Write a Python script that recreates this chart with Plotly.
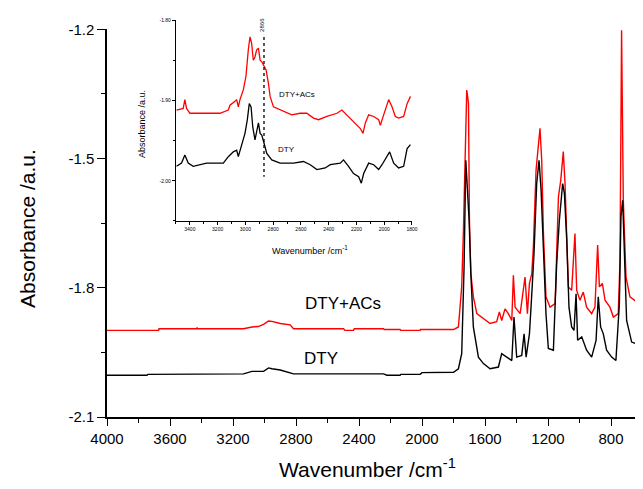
import plotly.graph_objects as go

# ---------------- main spectra ----------------
red_wn = [4000, 3672, 3670, 3430, 3428, 3425, 3133, 3080, 3040, 3006, 2974, 2953, 2900, 2837, 2816,
          2498, 2490, 2435, 2430, 2244, 2240, 2139, 2135, 2012, 2010, 1800, 1769, 1748, 1737, 1726,
          1716, 1705, 1699, 1690, 1674, 1652, 1610, 1568, 1526, 1509, 1494, 1473, 1452, 1430, 1420,
          1409, 1377, 1361, 1346, 1331, 1318, 1303, 1293, 1276, 1261, 1251, 1240, 1229, 1213, 1187,
          1155, 1134, 1119, 1103, 1092, 1081, 1071, 1050, 1029, 1018, 997, 976, 955, 923, 902, 885,
          874, 855, 838, 807, 785, 754, 743, 733, 722, 705, 680, 637, 616, 600]
red_abs = [-1.899, -1.899, -1.895, -1.895, -1.892, -1.895, -1.895, -1.891, -1.890, -1.885, -1.877, -1.878,
           -1.883, -1.886, -1.895, -1.895, -1.899, -1.899, -1.895, -1.895, -1.897, -1.897, -1.899, -1.899,
           -1.897, -1.897, -1.891, -1.798, -1.666, -1.504, -1.341, -1.372, -1.643, -1.767, -1.821, -1.860,
           -1.872, -1.883, -1.879, -1.856, -1.876, -1.849, -1.860, -1.876, -1.771, -1.845, -1.860, -1.821,
           -1.775, -1.860, -1.790, -1.767, -1.705, -1.527, -1.465, -1.430, -1.504, -1.674, -1.821, -1.845,
           -1.837, -1.589, -1.550, -1.484, -1.558, -1.705, -1.798, -1.806, -1.674, -1.806, -1.829, -1.810,
           -1.845, -1.860, -1.845, -1.701, -1.798, -1.790, -1.829, -1.845, -1.868, -1.860, -1.736, -1.202,
           -1.597, -1.775, -1.821, -1.833, -1.841, -1.843]

black_wn = [4000, 3746, 3740, 3672, 3660, 3133, 3080, 3006, 2974, 2953, 2900, 2837, 2816, 2244, 2223,
            2139, 2135, 2012, 2000, 1800, 1769, 1748, 1733, 1722, 1712, 1701, 1690, 1674, 1642, 1610,
            1568, 1515, 1494, 1462, 1430, 1416, 1399, 1367, 1352, 1339, 1318, 1303, 1289, 1272, 1257,
            1244, 1229, 1213, 1198, 1166, 1145, 1128, 1107, 1096, 1081, 1067, 1050, 1035, 1022, 1012,
            986, 955, 923, 895, 881, 866, 849, 828, 796, 769, 747, 737, 726, 716, 701, 669, 637, 606, 600]
black_abs = [-2.003, -2.003, -2.001, -2.001, -2.000, -2.000, -1.994, -1.994, -1.986, -1.988, -1.991,
             -1.998, -2.000, -2.000, -2.003, -2.003, -2.001, -2.001, -1.997, -1.996, -1.988, -1.953,
             -1.752, -1.504, -1.581, -1.643, -1.767, -1.891, -1.961, -1.976, -1.988, -1.984, -1.953,
             -1.961, -1.969, -1.868, -1.961, -1.957, -1.907, -1.961, -1.907, -1.814, -1.721, -1.558,
             -1.504, -1.573, -1.736, -1.860, -1.941, -1.945, -1.744, -1.643, -1.558, -1.581, -1.690,
             -1.845, -1.891, -1.899, -1.814, -1.922, -1.914, -1.945, -1.961, -1.922, -1.821, -1.891,
             -1.907, -1.945, -1.961, -1.969, -1.837, -1.635, -1.597, -1.721, -1.876, -1.926, -1.930,
             -1.941, -1.941]

# ---------------- inset spectra ----------------
in_red_wn = [3496, 3448, 3436, 3424, 3400, 3183, 3123, 3111, 3075, 3063, 3051, 3039, 3015, 2996, 2979,
             2967, 2955, 2943, 2931, 2919, 2906, 2894, 2882, 2870, 2851, 2834, 2822, 2798, 2750, 2666,
             2606, 2558, 2509, 2473, 2413, 2341, 2305, 2269, 2221, 2172, 2153, 2136, 2112, 2076, 2040,
             2028, 2004, 1968, 1944, 1920, 1896, 1860, 1835, 1811]
in_red_abs = [-1.912, -1.910, -1.899, -1.910, -1.916, -1.916, -1.912, -1.906, -1.901, -1.899, -1.908,
              -1.899, -1.887, -1.870, -1.837, -1.821, -1.829, -1.850, -1.846, -1.837, -1.835, -1.850,
              -1.852, -1.856, -1.862, -1.879, -1.895, -1.908, -1.912, -1.918, -1.916, -1.916, -1.922,
              -1.924, -1.920, -1.916, -1.912, -1.918, -1.926, -1.935, -1.941, -1.928, -1.918, -1.920,
              -1.924, -1.931, -1.918, -1.899, -1.908, -1.920, -1.922, -1.920, -1.904, -1.895]
in_black_wn = [3496, 3460, 3436, 3412, 3376, 3280, 3159, 3123, 3087, 3063, 3051, 3027, 3003, 2986, 2972,
               2959, 2947, 2931, 2919, 2906, 2894, 2882, 2866, 2846, 2810, 2750, 2654, 2582, 2533, 2485,
               2425, 2389, 2317, 2293, 2257, 2221, 2184, 2165, 2148, 2112, 2076, 2040, 2016, 1980, 1961,
               1932, 1896, 1860, 1835, 1811]
in_black_abs = [-1.982, -1.978, -1.968, -1.978, -1.982, -1.978, -1.978, -1.970, -1.964, -1.962, -1.970,
                -1.957, -1.941, -1.924, -1.904, -1.908, -1.933, -1.949, -1.937, -1.928, -1.941, -1.943,
                -1.953, -1.966, -1.974, -1.978, -1.978, -1.976, -1.980, -1.986, -1.984, -1.980, -1.978,
                -1.974, -1.982, -1.991, -1.995, -2.003, -1.991, -1.978, -1.980, -1.986, -1.980, -1.970,
                -1.964, -1.978, -1.984, -1.982, -1.960, -1.955]
marker_wn = [2866, 2866]
marker_abs = [-1.821, -1.995]
marker_label = "2866"

x_ticks = [4000, 3600, 3200, 2800, 2400, 2000, 1600, 1200, 800]
y_ticks = [-2.1, -1.8, -1.5, -1.2]
y_ticklabels = ["-2.1", "-1.8", "-1.5", "-1.2"]
in_x_ticks = [3400, 3200, 3000, 2800, 2600, 2400, 2200, 2000, 1800]
in_y_ticks = [-2.00, -1.90, -1.80]
in_y_ticklabels = ["-2.00", "-1.90", "-1.80"]

FONT = "Liberation Sans, Arial, sans-serif"

fig = go.Figure()
fig.add_trace(go.Scatter(x=red_wn, y=red_abs, mode="lines", line=dict(color="#ff0000", width=1.4),
                         showlegend=False, xaxis="x", yaxis="y"))
fig.add_trace(go.Scatter(x=black_wn, y=black_abs, mode="lines", line=dict(color="#000000", width=1.4),
                         showlegend=False, xaxis="x", yaxis="y"))
fig.add_trace(go.Scatter(x=in_red_wn, y=in_red_abs, mode="lines", line=dict(color="#ff0000", width=1.3),
                         showlegend=False, xaxis="x2", yaxis="y2"))
fig.add_trace(go.Scatter(x=in_black_wn, y=in_black_abs, mode="lines", line=dict(color="#000000", width=1.3),
                         showlegend=False, xaxis="x2", yaxis="y2"))
fig.add_trace(go.Scatter(x=marker_wn, y=marker_abs, mode="lines",
                         line=dict(color="#000000", width=1.3, dash="dot"),
                         showlegend=False, xaxis="x2", yaxis="y2"))

# the page adds an 8px body margin, so the figure is made 8px smaller on each side used
fig.update_layout(
    width=635, height=481,
    margin=dict(l=99, r=0, t=2, b=72, autoexpand=False),
    paper_bgcolor="white", plot_bgcolor="white",
    font=dict(family=FONT, color="#000000"),
    xaxis=dict(range=[4000, 597], domain=[0, 1], anchor="y", automargin=False,
               showline=True, linecolor="#000", linewidth=1.5, showgrid=False, zeroline=False,
               ticks="outside", ticklen=7, tickwidth=1.3, tickcolor="#000",
               tickmode="array", tickvals=x_ticks, ticktext=[str(v) for v in x_ticks],
               tickfont=dict(size=15, family=FONT),
               minor=dict(ticks="outside", ticklen=4, tickwidth=1.2, tickcolor="#000", dtick=200, tick0=0)),
    yaxis=dict(range=[-2.1, -1.2], domain=[0, 0.9526], anchor="x", automargin=False,
               showline=True, linecolor="#000", linewidth=1.5, showgrid=False, zeroline=False,
               ticks="outside", ticklen=8, tickwidth=1.3, tickcolor="#000",
               tickmode="array", tickvals=y_ticks, ticktext=y_ticklabels,
               tickfont=dict(size=15, family=FONT),
               minor=dict(ticks="outside", ticklen=4, tickwidth=1.2, tickcolor="#000", dtick=0.15, tick0=-1.2)),
    xaxis2=dict(range=[3500, 1800], domain=[0.1287, 0.569], anchor="y2", automargin=False,
                showline=True, linecolor="#000", linewidth=1.2, showgrid=False, zeroline=False,
                ticks="outside", ticklen=3, tickwidth=1, tickcolor="#000",
                tickmode="array", tickvals=in_x_ticks, ticktext=[str(v) for v in in_x_ticks],
                tickfont=dict(size=5, family=FONT),
                minor=dict(ticks="outside", ticklen=2, tickwidth=1, tickcolor="#000", dtick=100, tick0=0)),
    yaxis2=dict(range=[-2.05, -1.80], domain=[0.4816, 0.9754], anchor="x2", automargin=False,
                showline=True, linecolor="#000", linewidth=1.2, showgrid=False, zeroline=False,
                ticks="outside", ticklen=3, tickwidth=1, tickcolor="#000",
                tickmode="array", tickvals=in_y_ticks, ticktext=in_y_ticklabels,
                tickfont=dict(size=5, family=FONT),
                minor=dict(ticks="outside", ticklen=2, tickwidth=1, tickcolor="#000", dtick=0.05, tick0=-1.8)),
)

def note(text, x, y, xref="paper", yref="paper", size=10, angle=0):
    return dict(text=text, xref=xref, yref=yref, x=x, y=y, textangle=angle, showarrow=False,
                xanchor="center", yanchor="middle", font=dict(size=size, family=FONT))

ann = [
    note("Absorbance /a.u.", -0.1474, 0.4644, size=21, angle=-90),
    note("Wavenumber /cm<sup>-1</sup>", 0.4851, -0.1253, size=21),
    note("DTY+ACs", 2500, -1.836, "x", "y", size=17),
    note("DTY", 2640, -1.964, "x", "y", size=17),
    note("Absorbance /a.u.", 0.0653, 0.7199, size=9, angle=-90),
    note("Wavenumber /cm<sup>-1</sup>", 0.3787, 0.4103, size=9),
    note("DTY+ACs", 2625, -1.893, "x2", "y2", size=8),
    note("DTY", 2702, -1.961, "x2", "y2", size=8),
    note(marker_label, 2880, -1.806, "x2", "y2", size=6, angle=-90),
]
fig.update_layout(annotations=ann)

fig.write_html("out.html")
